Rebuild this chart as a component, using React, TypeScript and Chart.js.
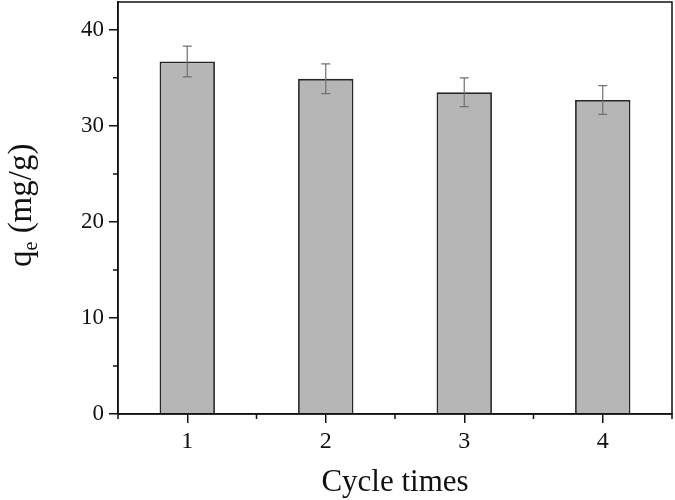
import React, { useEffect, useRef } from "react";
import { Chart, registerables } from "chart.js";

Chart.register(...registerables);

const FONT = '"Liberation Serif", "Times New Roman", serif';

const categories = ["1", "2", "3", "4"];
const qeValues = [36.7, 34.9, 33.5, 32.7];
const qeErrors = [1.6, 1.55, 1.5, 1.5];
const yTicks = [0, 10, 20, 30, 40];
const yMinorTicks = [5, 15, 25, 35];
const yMin = 0;
const yMax = 42.9;
const xTitle = "Cycle times";
const yTitleMain = "q";
const yTitleSub = "e";
const yTitleRest = " (mg/g)";

const decorPlugin = {
  id: "decor",
  afterDatasetsDraw(chart: any) {
    const ctx = chart.ctx;
    const x = chart.scales.x;
    const y = chart.scales.y;
    ctx.save();
    ctx.strokeStyle = "#707070";
    ctx.lineWidth = 1.2;
    qeValues.forEach((v, i) => {
      const px = x.getPixelForValue(i);
      const top = y.getPixelForValue(v + qeErrors[i]);
      const bot = y.getPixelForValue(v - qeErrors[i]);
      ctx.beginPath();
      ctx.moveTo(px, top);
      ctx.lineTo(px, bot);
      ctx.moveTo(px - 4.5, top);
      ctx.lineTo(px + 4.5, top);
      ctx.moveTo(px - 4.5, bot);
      ctx.lineTo(px + 4.5, bot);
      ctx.stroke();
    });
    ctx.restore();
  },
  afterDraw(chart: any) {
    const ctx = chart.ctx;
    const a = chart.chartArea;
    const x = chart.scales.x;
    const y = chart.scales.y;
    ctx.save();
    // frame
    ctx.strokeStyle = "#111";
    ctx.lineWidth = 1.5;
    ctx.strokeRect(a.left, a.top, a.right - a.left, a.bottom - a.top);
    // minor ticks
    ctx.beginPath();
    yMinorTicks.forEach((v) => {
      const py = y.getPixelForValue(v);
      ctx.moveTo(a.left, py);
      ctx.lineTo(a.left - 5, py);
    });
    for (let i = 0; i <= categories.length; i++) {
      const px = x.getPixelForValue(i - 0.5);
      ctx.moveTo(px, a.bottom);
      ctx.lineTo(px, a.bottom + 5);
    }
    ctx.stroke();
    // x title
    ctx.fillStyle = "#111";
    ctx.font = `31px ${FONT}`;
    ctx.textAlign = "center";
    ctx.textBaseline = "alphabetic";
    ctx.fillText(xTitle, (a.left + a.right) / 2, 491);
    // y title (rotated, with subscript)
    ctx.translate(31, 267);
    ctx.rotate(-Math.PI / 2);
    ctx.textAlign = "left";
    ctx.font = `33px ${FONT}`;
    ctx.fillText(yTitleMain, 0, 0);
    let off = ctx.measureText(yTitleMain).width;
    ctx.font = `20px ${FONT}`;
    ctx.fillText(yTitleSub, off, 6);
    off += ctx.measureText(yTitleSub).width;
    ctx.font = `33px ${FONT}`;
    ctx.fillText(yTitleRest, off, 0);
    ctx.restore();
  },
};

export default function App() {
  const ref = useRef<HTMLCanvasElement>(null);
  useEffect(() => {
    if (!ref.current) return;
    const chart = new Chart(ref.current, {
      type: "bar",
      data: {
        labels: categories,
        datasets: [
          {
            data: qeValues,
            backgroundColor: "#b6b6b6",
            borderColor: "#262626",
            borderWidth: 1.8,
            borderSkipped: "bottom",
            barPercentage: 0.4,
            categoryPercentage: 1,
          },
        ],
      },
      options: {
        responsive: false,
        animation: false,
        layout: { padding: { top: 2, right: 3, left: 0, bottom: 0 } },
        plugins: {
          legend: { display: false },
          tooltip: { enabled: false },
        },
        scales: {
          x: {
            offset: true,
            grid: {
              offset: false,
              drawOnChartArea: false,
              drawTicks: true,
              tickLength: 9,
              color: "#111",
              lineWidth: 1.5,
            },
            border: { display: true, color: "#111", width: 1.5 },
            ticks: {
              color: "#111",
              font: { family: FONT, size: 24 },
              padding: 4,
              maxRotation: 0,
            },
            afterFit: (s: any) => {
              s.height = 86;
              s.paddingLeft = 0;
              s.paddingRight = 0;
            },
          },
          y: {
            min: yMin,
            max: yMax,
            afterBuildTicks: (s: any) => {
              s.ticks = yTicks.map((v) => ({ value: v }));
            },
            grid: {
              drawOnChartArea: false,
              drawTicks: true,
              tickLength: 9,
              color: "#111",
              lineWidth: 1.5,
            },
            border: { display: true, color: "#111", width: 1.5 },
            ticks: {
              color: "#111",
              font: { family: FONT, size: 23 },
              padding: 5,
            },
            afterFit: (s: any) => {
              s.width = 118;
              s.paddingTop = 0;
              s.paddingBottom = 0;
            },
          },
        },
      },
      plugins: [decorPlugin],
    });
    return () => chart.destroy();
  }, []);
  return (
    <div style={{ position: "absolute", left: 0, top: 0, width: 675, height: 500, background: "#fff" }}>
      <canvas ref={ref} width={675} height={500} style={{ display: "block" }} />
    </div>
  );
}
